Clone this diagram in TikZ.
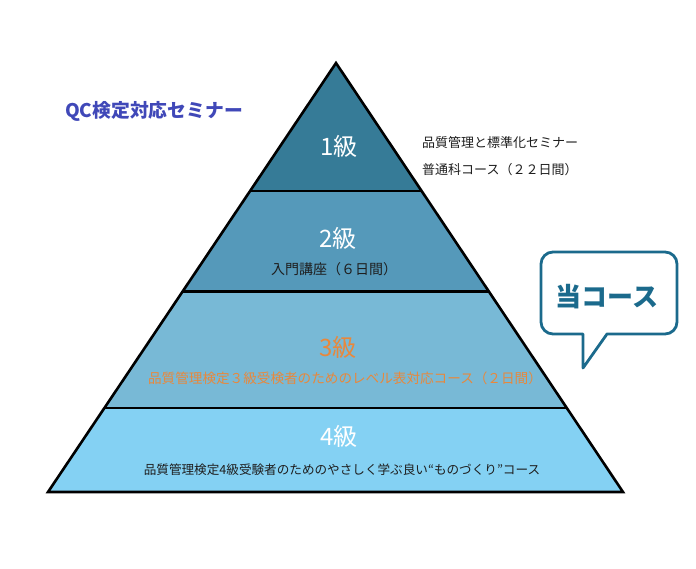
\documentclass[tikz,border=0pt]{standalone}
\usepackage{fontspec}
\setmainfont{Noto Sans CJK JP}
\usetikzlibrary{calc}

\definecolor{bandA}{RGB}{54,123,151}
\definecolor{bandB}{RGB}{85,153,186}
\definecolor{bandC}{RGB}{120,185,214}
\definecolor{bandD}{RGB}{132,209,243}
\definecolor{qcblue}{RGB}{64,72,184}
\definecolor{calloutblue}{RGB}{27,106,140}
\definecolor{levelorange}{RGB}{232,136,60}
\definecolor{inktext}{RGB}{30,30,30}

\tikzset{
  grade/.style={font=\fontsize{24}{26}\selectfont, text=white, inner sep=0pt},
  subline/.style={font=\fontsize{13}{15}\selectfont, text=inktext, inner sep=0pt},
  edge/.style={line width=2.6pt, line join=miter},
}

\begin{document}
\begin{tikzpicture}[x=1pt,y=-1pt]
	\useasboundingbox (0,0) rectangle (696,568);
	
	% Pyramid corners
	\coordinate (apex) at (336,63);
	\coordinate (bl) at (48,492);
	\coordinate (br) at (623,492);
	\coordinate (l1) at ($(apex)!0.298!(bl)$);
	\coordinate (r1) at ($(apex)!0.298!(br)$);
	\coordinate (l2) at ($(apex)!0.532!(bl)$);
	\coordinate (r2) at ($(apex)!0.532!(br)$);
	\coordinate (l3) at ($(apex)!0.804!(bl)$);
	\coordinate (r3) at ($(apex)!0.804!(br)$);
	
	% Filling the four bands
	\fill [bandA] (apex) -- (r1) -- (l1) -- cycle;
	\fill [bandB] (l1) -- (r1) -- (r2) -- (l2) -- cycle;
	\fill [bandC] (l2) -- (r2) -- (r3) -- (l3) -- cycle;
	\fill [bandD] (l3) -- (r3) -- (br) -- (bl) -- cycle;
	
	\draw[edge] (l1) -- (r1);
	\draw[edge] (l2) -- (r2);
	\draw[edge] (l3) -- (r3);
	\draw[edge] (apex) -- (br) -- (bl) -- cycle;
	
	% Grades
	\node[grade] (g1) at (339,146) {1級};
	\node[grade] (g2) at (338,238) {2級};
	\node[grade, text=levelorange] (g3) at (338,347) {3級};
	\node[grade] (g4) at (339,436) {4級};
	
	\node[subline, font=\fontsize{14}{16}\selectfont] (s2) at (334,269) {入門講座（６日間）};
	\node[subline, font=\fontsize{13.6}{15}\selectfont, text=levelorange] (s3) at (345,378) {品質管理検定３級受検者のためのレベル表対応コース（２日間）};
	\node[subline, font=\fontsize{12.6}{14}\selectfont] (s4) at (342,470) {品質管理検定4級受験者のためのやさしく学ぶ良い“ものづくり”コース};
	
	% Level 1 course, beside the tip
	\node[subline, anchor=west] (s1a) at (422,143) {品質管理と標準化セミナー};
	\node[subline, anchor=west] (s1b) at (422,170) {普通科コース（２２日間）};
	
	% Title
	\node[font=\fontsize{18.8}{20}\selectfont\bfseries, text=qcblue, anchor=west, inner sep=0pt] (title) at (65,111) {QC検定対応セミナー};
	
	% Speech bubble
	\draw[calloutblue, line width=2.8pt, line join=round]
	(583,368) -- (583,334) [rounded corners=12pt] -- (541,334) -- (541,252) -- (677,252) -- (677,334) [sharp corners] -- (607,334) -- cycle;
	\node[font=\fontsize{26}{28}\selectfont\bfseries, text=calloutblue, inner sep=0pt] (here) at (607,297) {当コース};
	
\end{tikzpicture}
\end{document}
